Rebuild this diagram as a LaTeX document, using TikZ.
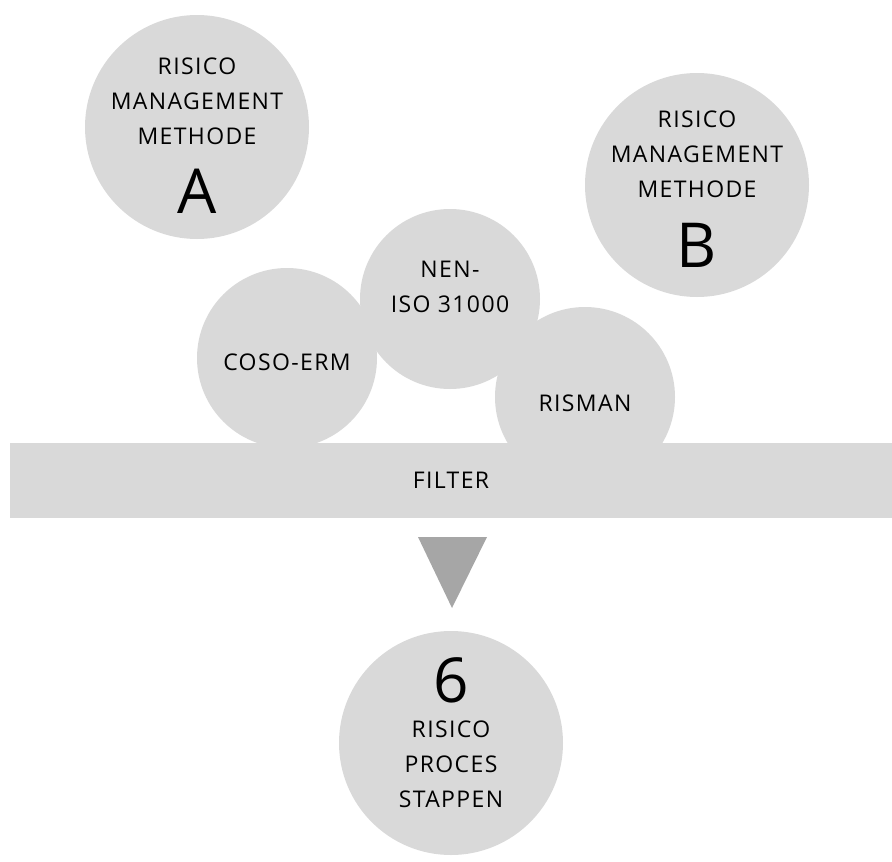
\documentclass[tikz,border=0pt]{standalone}
\usepackage{fontspec}
\setmainfont[LetterSpace=6]{Open Sans}
\usepackage{tikz}

\begin{document}
\begin{tikzpicture}[x=1pt, y=-1pt,
	bubble/.style={circle, fill=black!15, inner sep=0pt},
	words/.style={align=center, font=\fontsize{23}{35}\selectfont},
	bigletter/.style={font=\fontsize{62}{62}\selectfont, inner sep=0pt}]
	\useasboundingbox (0,0) rectangle (892,862);
	% methods
	\node[bubble, minimum size=224pt] (methA) at (197,127) {};
	\node[words] (methAtext) at (197,101) {RISICO\\MANAGEMENT\\METHODE};
	\node[bigletter] (letA) at (197,191) {A};
	\node[bubble, minimum size=224pt] (methB) at (697,185) {};
	\node[words] (methBtext) at (697,154) {RISICO\\MANAGEMENT\\METHODE};
	\node[bigletter] (letB) at (697,245) {B};
	% standards
	\node[bubble, minimum size=180pt] (coso) at (287,358) {};
	\node[words] (cosotext) at (287,362) {COSO-ERM};
	\node[bubble, minimum size=180pt] (risman) at (585,397) {};
	\node[words] (rismantext) at (585,403) {RISMAN};
	\node[bubble, minimum size=180pt] (nen) at (450,299) {};
	\node[words] (nentext) at (450,287) {NEN-\\ISO 31000};
	% filter
	\node[fill=black!15, minimum width=882pt, minimum height=75pt, inner sep=0pt] (filter) at (451,480.5) {};
	\node[words] (filtertext) at (451,480) {FILTER};
	\coordinate (triL) at (418,537);
	\coordinate (triR) at (487,537);
	\coordinate (triB) at (452,608);
	\fill[black!35] (triL) -- (triR) -- (triB) -- cycle;
	% result
	\node[bubble, minimum size=224pt] (steps) at (451,743) {};
	\node[bigletter] (six) at (451,680) {6};
	\node[words] (stepstext) at (451,764) {RISICO\\PROCES\\STAPPEN};
\end{tikzpicture}
\end{document}
